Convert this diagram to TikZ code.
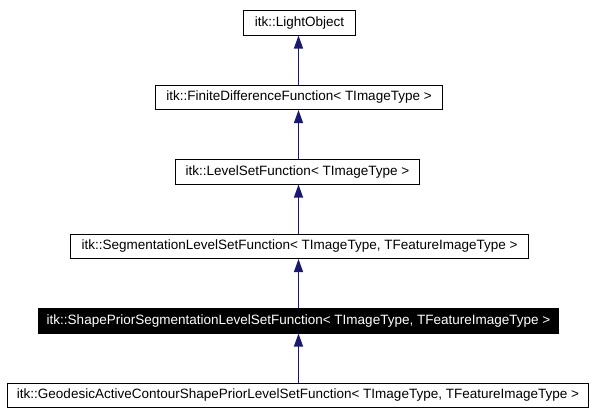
\documentclass[tikz,border=0pt]{standalone}
\usepackage{fontspec}
\setmainfont{Liberation Sans}
\usetikzlibrary{arrows.meta}
\definecolor{edgeblue}{HTML}{191970}
\begin{document}
\begin{tikzpicture}[x=1pt,y=-1pt,
 cls/.style={draw=black, line width=1pt, fill=white, minimum height=24.5pt, inner sep=0pt, font=\fontsize{13.5}{16}\selectfont, anchor=north west},
 cur/.style={cls, fill=black, text=white},
 inh/.style={draw=edgeblue, line width=1.2pt, -{Triangle[length=13pt,width=9pt]}}]
\useasboundingbox (0,0) rectangle (596,415);
\coordinate (ax) at (298.5,0);
\node[cls, minimum width=112pt] (lo) at (243,10) {itk::LightObject};
\node[cls, minimum width=287pt] (fd) at (155,84.5) {itk::FiniteDifferenceFunction< TImageType >};
\node[cls, minimum width=244pt] (ls) at (175,159) {itk::LevelSetFunction< TImageType >};
\node[cls, minimum width=458pt] (sg) at (70,233.5) {itk::SegmentationLevelSetFunction< TImageType, TFeatureImageType >};
\node[cur, minimum width=520pt] (sp) at (38,308) {itk::ShapePriorSegmentationLevelSetFunction< TImageType, TFeatureImageType >};
\node[cls, minimum width=581pt] (ge) at (7,382.5) {itk::GeodesicActiveContourShapePriorLevelSetFunction< TImageType, TFeatureImageType >};
\draw[inh] (fd.north -| ax) -- (lo.south -| ax);
\draw[inh] (ls.north -| ax) -- (fd.south -| ax);
\draw[inh] (sg.north -| ax) -- (ls.south -| ax);
\draw[inh] (sp.north -| ax) -- (sg.south -| ax);
\draw[inh] (ge.north -| ax) -- (sp.south -| ax);
\end{tikzpicture}
\end{document}
